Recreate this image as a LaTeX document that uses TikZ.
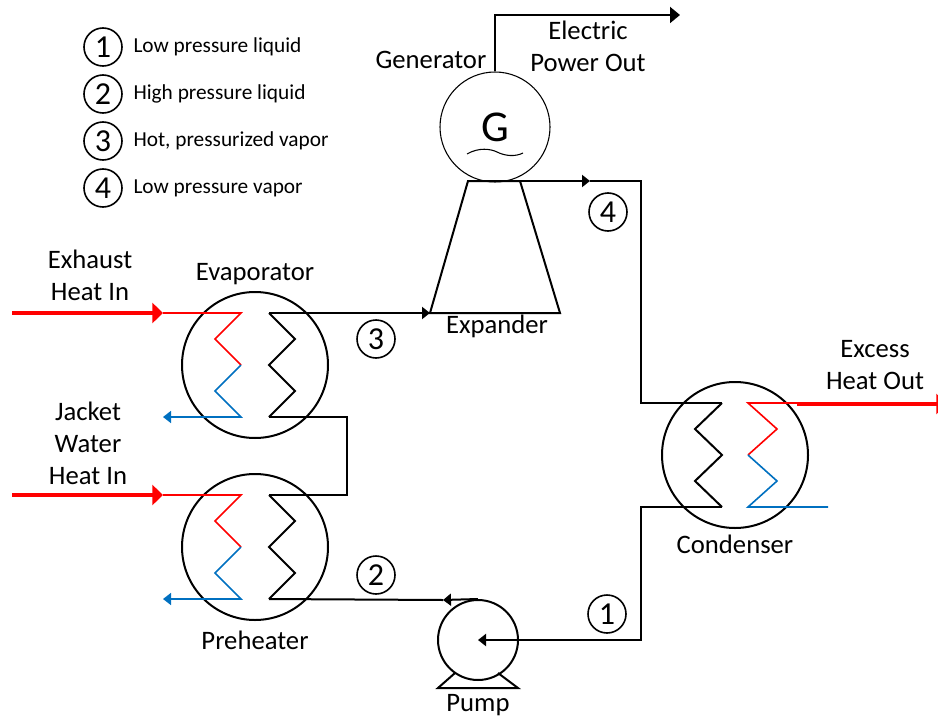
\documentclass[tikz,border=0pt]{standalone}
\usepackage{fontspec}
\setmainfont{Carlito}
\usetikzlibrary{arrows.meta,positioning}
\definecolor{heatred}{RGB}{255,0,0}
\definecolor{coolblue}{RGB}{0,112,192}

\begin{document}
\begin{tikzpicture}[x=0.75pt,y=-0.75pt,
  pipe/.style={draw=black,line width=1.5pt},
  hot/.style={draw=heatred,line width=1.2pt},
  cold/.style={draw=coolblue,line width=1.2pt},
  heat/.style={draw=heatred,line width=3pt,-{Triangle[length=8pt,width=15pt]}},
  flow/.style={-{Triangle[length=6pt,width=9pt]}},
  hx/.style={circle,draw,line width=1.5pt,minimum size=109.5pt,inner sep=0pt},
  num/.style={circle,draw,line width=1.2pt,minimum size=28.5pt,inner sep=0pt,font=\fontsize{24}{28}\selectfont},
  lbl/.style={font=\fontsize{20}{24}\selectfont,align=center},
  key/.style={anchor=west,font=\fontsize{16}{19}\selectfont}]
\useasboundingbox (0,0) rectangle (938,717);
\clip (0,0) rectangle (938,717);

% legend
\foreach \n/\txt [count=\i] in {1/Low pressure liquid,2/High pressure liquid,3/{Hot, pressurized vapor},4/Low pressure vapor} {
  \node[num] (k\n) at (103,{47+47*(\i-1)}) {\n};
  \node[key,right=4.5pt of k\n] (t\n) {\txt};
}

% equipment
\node[hx] (evap) at (255,365) {};
\node[hx] (preh) at (255,547) {};
\node[hx] (cond) at (735,455) {};
\node[circle,draw,line width=1.5pt,minimum size=60pt] (pump) at (478,640) {};
\node[circle,draw,line width=0.8pt,minimum size=82.5pt,font=\fontsize{33}{36}\selectfont] (gen) at (495,127) {G};
\coordinate (xtl) at (468,181);
\coordinate (xtr) at (520,181);
\coordinate (xbr) at (560,313);
\coordinate (xbl) at (430,313);
\draw[pipe] (xtl) -- (xtr) -- (xbr) -- (xbl) -- cycle;

% coils
\begin{scope}[shift={(evap.center)}]
  \draw[hot] (-92,-52) coordinate (evin) -- (-14,-52) -- (-40,-26) -- (-14,0);
  \draw[cold,flow] (-14,0) -- (-40,26) -- (-14,52) -- (-92,52);
  \draw[pipe] (14,-52) coordinate (evt) -- (40,-26) -- (14,0) -- (40,26) -- (14,52) coordinate (evb);
\end{scope}
\begin{scope}[shift={(preh.center)}]
  \draw[hot] (-92,-52) coordinate (phin) -- (-14,-52) -- (-40,-26) -- (-14,0);
  \draw[cold,flow] (-14,0) -- (-40,26) -- (-14,52) -- (-92,52);
  \draw[pipe] (14,-52) coordinate (pht) -- (40,-26) -- (14,0) -- (40,26) -- (14,52) coordinate (phb);
\end{scope}
\begin{scope}[shift={(cond.center)}]
  \draw[pipe] (-13,-52) coordinate (cdt) -- (-40,-26) -- (-13,0) -- (-40,26) -- (-13,52) coordinate (cdb);
  \draw[hot] (93,-52) -- (13,-52) -- (42,-26) -- (13,0);
  \draw[cold] (13,0) -- (42,26) -- (13,52) -- (93,52);
  \coordinate (cdhot) at (62,-51);
\end{scope}
\begin{scope}[shift={(pump.center)}]
  \draw[pipe] (-23,33) -- (-40,48) -- (40,48) -- (20,33);
\end{scope}
\begin{scope}[shift={(gen.center)}]
  \draw[line width=0.8pt] (-28,27) .. controls (-16,20) and (-4,22) .. (2,25)
    .. controls (10,29) and (20,30) .. (28,26);
\end{scope}

% heat streams
\coordinate (exhaust) at (12,313);
\coordinate (jacket) at (12,495);
\coordinate (exout) at (947,404);
\draw[heat] (exhaust) -- (evin);
\draw[heat] (jacket) -- (phin);
\draw[heat] (cdhot) -- (exout);

% working fluid
\draw[pipe,flow] (evt) -- (xbl);
\draw[pipe,flow] (xtr) -- (590,181) coordinate (s4);
\draw[pipe] (s4) -- (641,181) |- (cdt);
\draw[pipe,flow] (cdb) -- (641,507) |- (pump.center);
\draw[pipe,flow] (pump.north) -- (443,600) coordinate (s2);
\draw[pipe] (s2) -- (phb);
\draw[pipe] (evb) -- ++(78,0) |- (pht);
\coordinate (elec) at (680,15);
\draw[pipe,-{Triangle[length=7.5pt,width=12pt]}] (gen.north) |- (elec);

% state numbers
\node[num] (n3) at (376,339) {3};
\node[num] (n4) at (608,212) {4};
\node[num] (n2) at (376,575) {2};
\node[num] (n1) at (607,614) {1};

% labels
\node[lbl] at (90,275) {Exhaust\\Heat In};
\node[lbl] at (88,443) {Jacket\\Water\\Heat In};
\node[lbl,above=1pt of evap] {Evaporator};
\node[lbl,below=4pt of preh] {Preheater};
\node[lbl,below=1pt of cond] {Condenser};
\node[lbl,below=6.5pt of pump] {Pump};
\node[lbl,anchor=north] at (497,310) {Expander};
\node[lbl,anchor=base east] at (491,68.5) {Generator};
\node[lbl] at (588,46) {Electric\\Power Out};
\node[lbl] at (875,365) {Excess\\Heat Out};
\end{tikzpicture}
\end{document}
